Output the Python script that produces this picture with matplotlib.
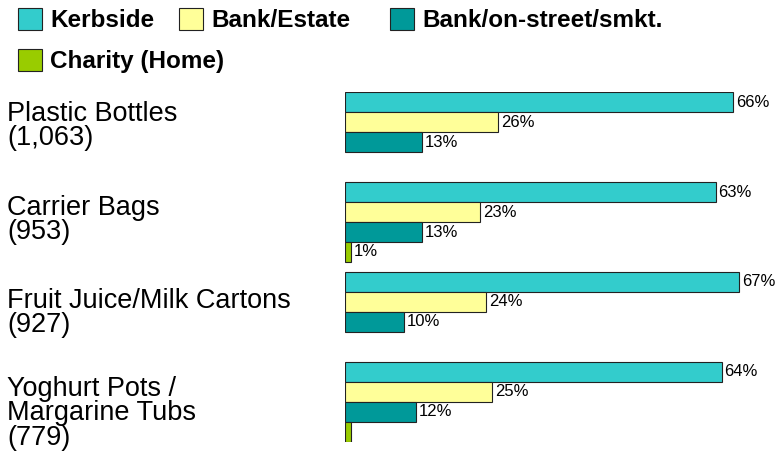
import matplotlib.pyplot as plt
import matplotlib.transforms as mtransforms
import numpy as np

plt.rcParams['font.family'] = ['Liberation Sans', 'DejaVu Sans']

# materials (with number of respondents) and where they get recycled
materials = ['Plastic Bottles\n(1,063)', 'Carrier Bags\n(953)',
             'Fruit Juice/Milk Cartons\n(927)',
             'Yoghurt Pots /\nMargarine Tubs\n(779)']
sources = ['Kerbside', 'Bank/Estate', 'Bank/on-street/smkt.', 'Charity (Home)']
colours = ['#33CCCC', '#FFFF99', '#009999', '#99CC00']

kerbside = [66, 63, 67, 64]
bank_estate = [26, 23, 24, 25]
bank_street = [13, 13, 10, 12]
charity = [0, 1, 0, 1]
charity_labels = ['', '1%', '', '']

series = [kerbside, bank_estate, bank_street, charity]

fig = plt.figure(figsize=(7.76, 4.51), dpi=100)
ax = fig.add_axes([345 / 776, 1 - 442 / 451, 412 / 776, 350 / 451])

group_pos = np.arange(len(materials)) * 4.5
for j, vals in enumerate(series):
    vals = np.array(vals)
    keep = vals > 0  # skip empty bars so no stray edge line is drawn
    bars = ax.barh((group_pos + j)[keep], vals[keep], height=1.0,
                   color=colours[j], edgecolor='#222222', linewidth=0.8,
                   label=sources[j])
    if j == 3:
        labels = [l for l, k in zip(charity_labels, keep) if k]
    else:
        labels = ['%d%%' % v for v in vals[keep]]
    ax.bar_label(bars, labels=labels, padding=2, fontsize=12)

ax.set_xlim(0, 70)
ax.set_ylim(17, -0.5)
ax.set_axis_off()

# category names down the left hand side
trans = mtransforms.blended_transform_factory(fig.transFigure, ax.transData)
nudge = [-0.35, -0.15, 0.0, -0.1]
for pos, name, dy in zip(group_pos, materials, nudge):
    ax.text(7 / 776, pos + 0.3 + dy, name, transform=trans, ha='left', va='top',
            fontsize=19.5, linespacing=0.92)

# legend: three on the top row, charity on its own underneath
handles, names = ax.get_legend_handles_labels()
spots = [(18, 20), (179, 20), (390, 20), (18, 61)]
for h, n, (px, py) in zip(handles, names, spots):
    fig.legend([h], [n], loc='center left',
               bbox_to_anchor=(px / 776, 1 - py / 451),
               frameon=False, borderpad=0, borderaxespad=0,
               handlelength=1.0, handleheight=1.04, handletextpad=0.33,
               prop={'weight': 'bold', 'size': 17.5})

fig.savefig('out.png', dpi=100)
